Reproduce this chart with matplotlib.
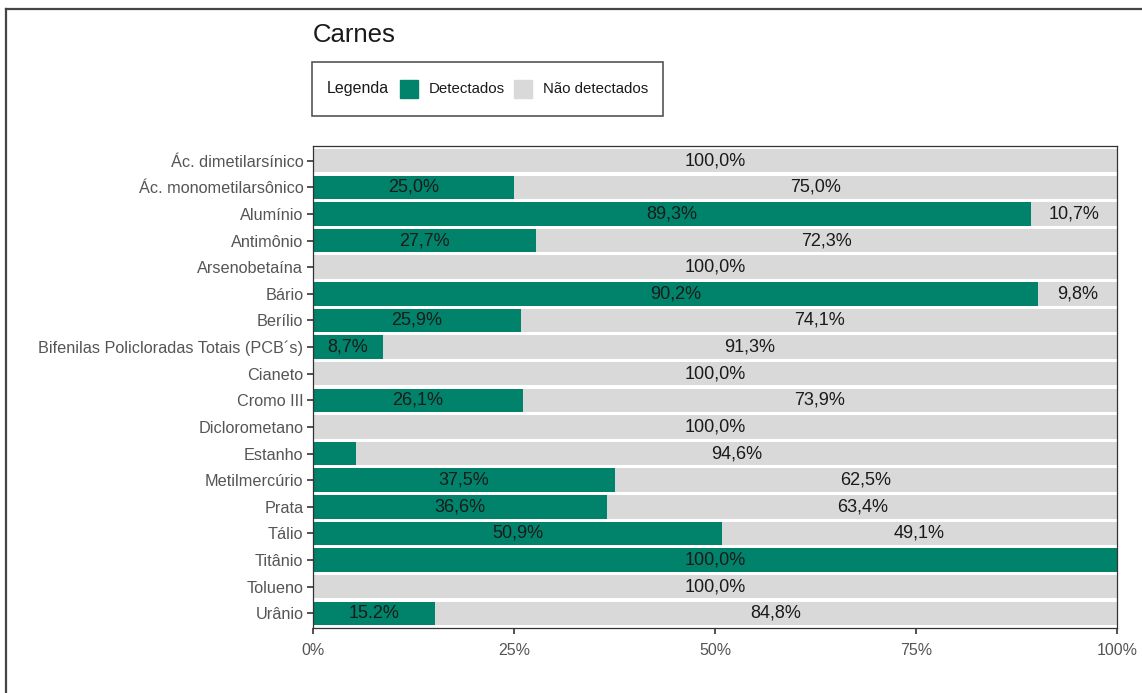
import matplotlib.pyplot as plt
from matplotlib.patches import Rectangle
from matplotlib.lines import Line2D

plt.rcParams['font.family'] = ['Liberation Sans', 'DejaVu Sans']

substancias = ['Ác. dimetilarsínico', 'Ác. monometilarsônico', 'Alumínio', 'Antimônio',
               'Arsenobetaína', 'Bário', 'Berílio', 'Bifenilas Policloradas Totais (PCB´s)',
               'Cianeto', 'Cromo III', 'Diclorometano', 'Estanho', 'Metilmercúrio',
               'Prata', 'Tálio', 'Titânio', 'Tolueno', 'Urânio']
detectados = [0.0, 25.0, 89.3, 27.7, 0.0, 90.2, 25.9, 8.7, 0.0, 26.1, 0.0, 5.4,
              37.5, 36.6, 50.9, 100.0, 0.0, 15.2]
nao_detectados = [100.0 - v for v in detectados]
ticks_x = [0, 25, 50, 75, 100]

verde = '#00836A'
cinza = '#D9D9D9'
texto = '#555555'


def rotulo(v):
    return f'{v:.1f}%'.replace('.', ',')


fig = plt.figure(figsize=(11.42, 6.93), dpi=100)
W, H = 1142, 693
ax = fig.add_axes([313 / W, 1 - 628 / H, (1117 - 313) / W, (628 - 146) / H])

y = list(range(len(substancias)))
ax.barh(y, detectados, height=0.88, color=verde)
ax.barh(y, nao_detectados, left=detectados, height=0.88, color=cinza)

for i, (d, n) in enumerate(zip(detectados, nao_detectados)):
    if d >= 6:
        txt = rotulo(d)
        if substancias[i] == 'Urânio':
            txt = f'{d:.1f}%'
        ax.text(d / 2, i, txt, ha='center', va='center', fontsize=13, color='#1a1a1a')
    if n >= 6:
        ax.text(d + n / 2, i, rotulo(n), ha='center', va='center', fontsize=13, color='#1a1a1a')

ax.set_xlim(0, 100)
ax.set_ylim(len(substancias) - 0.45, -0.55)
ax.set_yticks(y)
ax.set_yticklabels(substancias)
ax.set_xticks(ticks_x)
ax.set_xticklabels([f'{t}%' for t in ticks_x])
ax.tick_params(axis='both', labelcolor=texto, color='#333333', length=4, width=1.2)
ax.tick_params(axis='y', labelsize=11.7, pad=3)
ax.tick_params(axis='x', labelsize=11.5, pad=7)
for s in ax.spines.values():
    s.set_color('#333333')
    s.set_linewidth(0.9)

fig.text(313 / W, 1 - 35 / H, 'Carnes', fontsize=18.5, color='#1a1a1a', va='center')

# caixa da legenda
fig.patches.append(Rectangle((312 / W, 1 - 116 / H), (663 - 312) / W, (116 - 62) / H,
                             transform=fig.transFigure, fill=False, edgecolor='#555555',
                             linewidth=1.2))
ly = 1 - 89 / H
fig.text(327 / W, ly, 'Legenda', fontsize=11.5, color='#1a1a1a', va='center')
for x0, cor, nome in [(400, verde, 'Detectados'), (514, cinza, 'Não detectados')]:
    fig.patches.append(Rectangle((x0 / W, 1 - 98 / H), 18 / W, 18 / H,
                                 transform=fig.transFigure, color=cor))
    fig.text((x0 + 29) / W, ly, nome, fontsize=10.8, color='#1a1a1a', va='center')

# moldura
fig.lines.append(Line2D([6 / W, 6 / W], [0, 1 - 9 / H], transform=fig.transFigure,
                        color='#444444', linewidth=1.6))
fig.lines.append(Line2D([6 / W, 1], [1 - 9 / H, 1 - 9 / H], transform=fig.transFigure,
                        color='#444444', linewidth=1.6))

fig.savefig('out.png', dpi=100)
